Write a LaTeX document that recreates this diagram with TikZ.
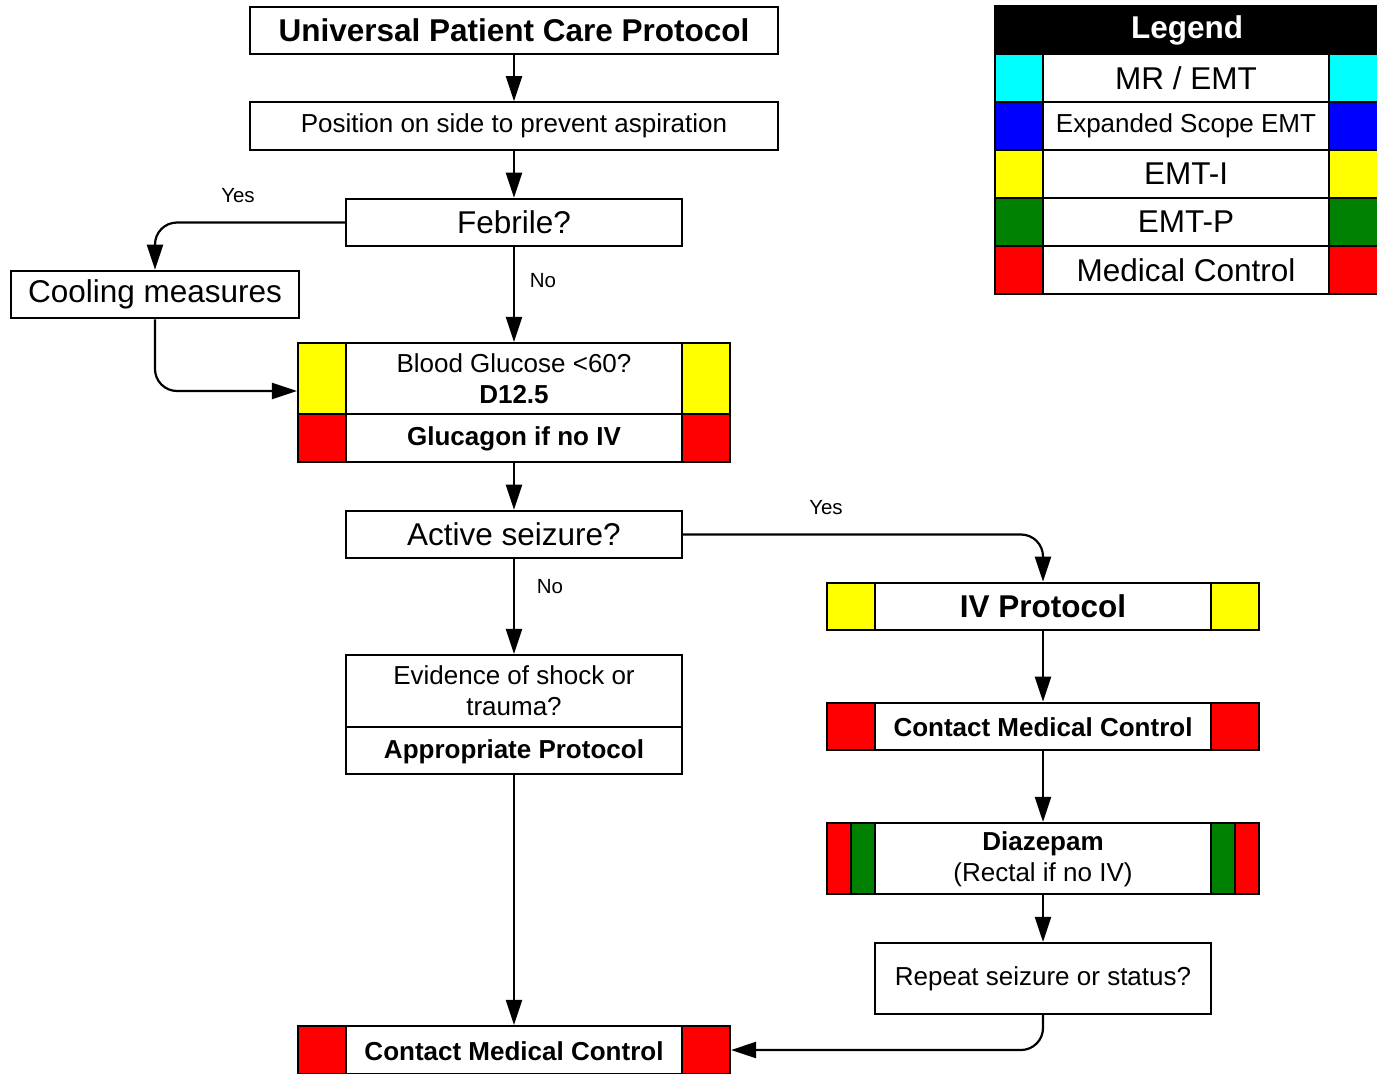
\documentclass[tikz,border=0pt]{standalone}
\usepackage{fontspec}
\setmainfont{Liberation Sans}
\usetikzlibrary{arrows.meta,calc}
\definecolor{cCyan}{RGB}{0,255,255}
\definecolor{cBlue}{RGB}{0,0,255}
\definecolor{cYel}{RGB}{255,255,0}
\definecolor{cGrn}{RGB}{0,128,0}
\definecolor{cRed}{RGB}{255,0,0}
\newcommand{\bigf}{\fontsize{31.5}{36}\selectfont}
\newcommand{\midf}{\fontsize{26}{32}\selectfont}
\newcommand{\lblf}{\fontsize{20.5}{24}\selectfont}
\tikzset{
  box/.style={draw, line width=2.2pt, fill=white, inner sep=0pt, minimum height=47.5pt},
  bar/.style={draw, line width=2.2pt},
  txt/.style={inner sep=0pt, align=center},
  arr/.style={line width=2.2pt, -{Triangle[length=25pt,width=16pt]}},
  lbl/.style={inner sep=0pt, font=\lblf},
}
\begin{document}
\begin{tikzpicture}[x=1pt,y=-1pt]
\useasboundingbox (0,0) rectangle (1377,1074);
% main column
\node[box, minimum width=528pt, font=\bigf\bfseries] (upcp) at (514,30.5) {Universal Patient Care Protocol};
\node[box, minimum width=528pt, font=\midf] (pos) at (514,126) {\raisebox{-2pt}{Position on side to prevent aspiration}};
\node[box, minimum width=336pt, font=\bigf] (feb) at (514,222.5) {Febrile?};
\node[box, minimum width=288pt, font=\bigf] (cool) at (155,294.5) {Cooling measures};
% blood glucose
\node[box, minimum width=432pt, minimum height=119pt] (bg) at (514,402.5) {};
\draw[bar, fill=cYel] (298,343) rectangle (346,414);
\draw[bar, fill=cYel] (682,343) rectangle (730,414);
\draw[bar, fill=cRed] (298,414) rectangle (346,462);
\draw[bar, fill=cRed] (682,414) rectangle (730,462);
\draw[line width=2.2pt] (346,414) -- (682,414);
\node[txt, font=\midf] (bgt) at (514,379) {Blood Glucose <60?\\[-1pt]\textbf{D12.5}};
\node[txt, font=\midf\bfseries] (bgg) at (514,439) {Glucagon if no IV};
% active seizure
\node[box, minimum width=336pt, font=\bigf] (act) at (514,534.5) {Active seizure?};
% evidence
\node[box, minimum width=336pt, minimum height=119pt] (evid) at (514,714.5) {};
\draw[line width=2.2pt] (346,727) -- (682,727);
\node[txt, font=\midf] (evt) at (514,691) {Evidence of shock or\\[-1pt]trauma?};
\node[txt, font=\midf\bfseries] (evp) at (514,751.5) {Appropriate Protocol};
% contact medical control bottom
\node[box, minimum width=432pt, minimum height=48pt] (cmca) at (514,1050) {};
\draw[bar, fill=cRed] (298,1026) rectangle (346,1074);
\draw[bar, fill=cRed] (682,1026) rectangle (730,1074);
\node[txt, font=\midf\bfseries] (cmcat) at (514,1051) {Contact Medical Control};
% right column
\node[box, minimum width=432pt] (iv) at (1043,606.5) {};
\draw[bar, fill=cYel] (827,583) rectangle (875,630);
\draw[bar, fill=cYel] (1211,583) rectangle (1259,630);
\node[txt, font=\bigf\bfseries] (ivt) at (1043,606.5) {IV Protocol};
\node[box, minimum width=432pt] (cmcb) at (1043,726.5) {};
\draw[bar, fill=cRed] (827,703) rectangle (875,750);
\draw[bar, fill=cRed] (1211,703) rectangle (1259,750);
\node[txt, font=\midf\bfseries] (cmcbt) at (1043,727.5) {Contact Medical Control};
\node[box, minimum width=432pt, minimum height=71pt] (diaz) at (1043,858.5) {};
\draw[bar, fill=cRed] (827,823) rectangle (851,894);
\draw[bar, fill=cGrn] (851,823) rectangle (875,894);
\draw[bar, fill=cGrn] (1211,823) rectangle (1235,894);
\draw[bar, fill=cRed] (1235,823) rectangle (1259,894);
\node[txt, font=\midf] (diazt) at (1043,859.5) {\textbf{Diazepam}\\[-1pt](Rectal if no IV)};
\node[box, minimum width=336pt, minimum height=71pt, font=\midf] (rep) at (1043,978.5) {\raisebox{-2pt}{Repeat seizure or status?}};
% connectors
\draw[arr] (upcp) -- (pos);
\draw[arr] (pos) -- (feb);
\draw[arr, rounded corners=22pt] (feb.west) -| (cool.north);
\draw[arr] (feb) -- (bg);
\draw[arr, rounded corners=22pt] (cool.south) |- ($(bg.west)+(0,-11.5)$);
\draw[arr] (bg) -- (act);
\draw[arr, rounded corners=22pt] (act.east) -| (iv.north);
\draw[arr] (act) -- (evid);
\draw[arr] (evid) -- (cmca);
\draw[arr] (iv) -- (cmcb);
\draw[arr] (cmcb) -- (diaz);
\draw[arr] (diaz) -- (rep);
\draw[arr, rounded corners=22pt] (rep.south) |- (cmca.east);
% labels
\node[lbl] (yes1) at (238,196) {Yes};
\node[lbl] (no1) at (543,281) {No};
\node[lbl] (yes2) at (826,508) {Yes};
\node[lbl] (no2) at (550,587) {No};
% legend
\node[draw, line width=2.2pt, fill=black, text=white, inner sep=0pt, minimum width=384pt, minimum height=48pt, font=\bigf\bfseries] (lgh) at (1187,30) {Legend};
\foreach \i/\c/\t/\f in {1/cCyan/{MR / EMT}/\bigf, 2/cBlue/{Expanded Scope EMT}/\midf, 3/cYel/{EMT-I}/\bigf, 4/cGrn/{EMT-P}/\bigf, 5/cRed/{Medical Control}/\bigf}{
  \node[draw, line width=2.2pt, fill=white, inner sep=0pt, minimum width=384pt, minimum height=48pt] (lr\i) at (1187,30+48*\i) {};
  \draw[bar, fill=\c] (995,6+48*\i) rectangle (1043,54+48*\i);
  \draw[bar, fill=\c] (1329,6+48*\i) rectangle (1379,54+48*\i);
  \node[txt, font=\f] (lt\i) at (1186,30+48*\i) {\t};
}
\end{tikzpicture}
\end{document}
